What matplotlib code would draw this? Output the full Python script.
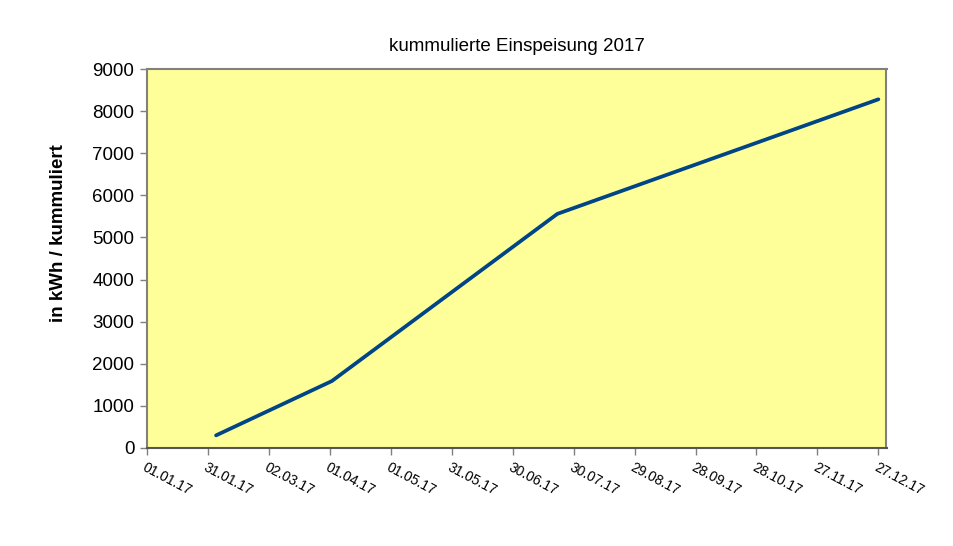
import numpy as np
import matplotlib
matplotlib.use("Agg")
import matplotlib.pyplot as plt
import matplotlib.dates as mdates
from datetime import datetime, timedelta

plt.rcParams['font.family'] = ['Liberation Sans', 'DejaVu Sans']

# Stuetzpunkte der kummulierten Einspeisung
dates = ["04.02.2017", "02.04.2017", "22.07.2017", "27.12.2017"]
kwh = [300, 1590, 5560, 8280]

# x-Ticks alle 30 Tage ab 01.01.17
tick_start = datetime(2017, 1, 1)
n_ticks = 13

x = [datetime.strptime(d, "%d.%m.%Y") for d in dates]
ticks = [tick_start + timedelta(days=30 * i) for i in range(n_ticks)]

fig = plt.figure(figsize=(9.54, 5.46), dpi=100)
ax = fig.add_axes([147 / 954, 1 - 448 / 546, (886.5 - 147) / 954, (448 - 69) / 546])
ax.set_facecolor("#FFFF99")

ax.plot(x, kwh, color="#004586", lw=2.7, solid_capstyle="round")

ax.set_xlim(datetime(2017, 1, 1), datetime(2017, 12, 31))
ax.set_ylim(0, 9000)
ax.set_yticks(np.arange(0, 9001, 1000))
ax.set_xticks(ticks)
ax.xaxis.set_major_formatter(mdates.DateFormatter("%d.%m.%y"))
plt.setp(ax.get_xticklabels(), rotation=-28, ha="left", rotation_mode="anchor", fontsize=10)
plt.setp(ax.get_yticklabels(), fontsize=13.5)
ax.tick_params(axis="both", direction="out", length=5, width=1, color="#808080", pad=4)

for s in ["top", "right", "left"]:
    ax.spines[s].set_color("#808080")
    ax.spines[s].set_linewidth(1.5)
ax.spines["bottom"].set_color("#555555")
ax.spines["bottom"].set_linewidth(1.5)

ax.set_title("kummulierte Einspeisung 2017", fontsize=13.5, pad=13)
ax.set_ylabel("in kWh / kummuliert", fontsize=13.5, fontweight="bold")
ax.yaxis.set_label_coords(-0.108, 0.567)

fig.savefig("out.png", dpi=100)
